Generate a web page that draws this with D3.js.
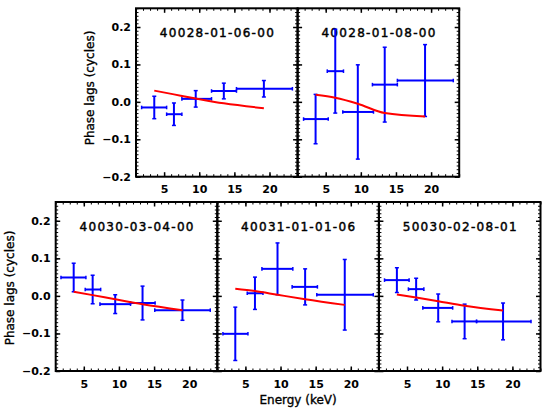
<!DOCTYPE html>
<html><head><meta charset="utf-8">
<script src="https://cdn.jsdelivr.net/npm/d3@7"></script>
<style>body{margin:0;background:#fff}svg{display:block}</style>
</head><body><svg id="c" width="551" height="413"></svg>
<script>
// ---- data ----
const obsIds = ["40028-01-06-00","40028-01-08-00","40030-03-04-00","40031-01-01-06","50030-02-08-01"];
const energyMid = [
  [3.6,6.4,9.5,13.5,19.2],
  [3.56,6.36,9.57,13.4,19.14],
  [3.56,6.26,9.47,13.36,19.04],
  [3.56,6.36,9.57,13.5,19.14],
  [3.56,6.3,9.44,13.2,18.67]];
const energyLo = [
  [1.8,5.36,7.53,11.75,15.3],
  [1.85,5.22,7.43,11.65,15.2],
  [1.75,5.2,7.3,11.65,15.1],
  [1.8,5.26,7.35,11.65,15.16],
  [1.8,5.2,7.25,11.4,14.9]];
const energyHi = [
  [5.36,7.53,11.75,15.3,23.26],
  [5.36,7.53,11.8,15.2,23.16],
  [5.3,7.4,11.65,15.15,23.0],
  [5.36,7.5,11.75,15.25,23.2],
  [5.3,7.4,11.5,14.9,22.65]];
const lagValues = [
  [-0.015,-0.033,0.008,0.029,0.035],
  [-0.046,0.082,-0.027,0.046,0.057],
  [0.049,0.017,-0.022,-0.019,-0.038],
  [-0.101,0.007,0.072,0.024,0.003],
  [0.042,0.018,-0.032,-0.068,-0.068]];
const lagErrors = [
  [0.030,0.030,0.022,0.021,0.022],
  [0.066,0.112,0.126,0.100,0.096],
  [0.038,0.038,0.025,0.045,0.027],
  [0.071,0.043,0.069,0.048,0.094],
  [0.033,0.029,0.037,0.046,0.049]];
const modelLags = [
  [0.030,0.020,0.009,-0.004,-0.017],
  [0.019,0.011,-0.005,-0.030,-0.039],
  [0.011,0.002,-0.009,-0.022,-0.038],
  [0.019,0.013,0.003,-0.009,-0.024],
  [0.004,-0.004,-0.014,-0.026,-0.039]];
const xTicks = [5,10,15,20];
const yTicks = [-0.2,-0.1,0.0,0.1,0.2];
const xMinor = d3.range(1,25);
const yMinor = d3.range(-20,26).map(d=>d/100);

// ---- layout ----
const pw = 161.6;
const panels = [
  {x0:136, y0:8.3, y1:176.7, ylab:true},
  {x0:136+pw, y0:8.3, y1:176.7, ylab:false},
  {x0:55.7, y0:202, y1:371, ylab:true},
  {x0:55.7+pw, y0:202, y1:371, ylab:false},
  {x0:55.7+2*pw, y0:202, y1:371, ylab:false}];

const svg = d3.select("#c");
const tickFont = "DejaVu Sans";

panels.forEach((p,i)=>{
  const x = d3.scaleLinear().domain([1,24]).range([p.x0,p.x0+pw]);
  const y = d3.scaleLinear().domain([-0.2,0.25]).range([p.y1,p.y0]);
  const g = svg.append("g");

  function styleAxis(sel, w){
    sel.select(".domain").remove();
    sel.selectAll(".tick line").attr("stroke","#000").attr("stroke-width",w);
  }
  // minor ticks
  g.append("g").attr("transform",`translate(0,${p.y1})`)
    .call(d3.axisBottom(x).tickValues(xMinor).tickSize(-2.5).tickFormat("")).call(s=>styleAxis(s,1));
  g.append("g").attr("transform",`translate(0,${p.y0})`)
    .call(d3.axisTop(x).tickValues(xMinor).tickSize(-2.5).tickFormat("")).call(s=>styleAxis(s,1));
  g.append("g").attr("transform",`translate(${p.x0},0)`)
    .call(d3.axisLeft(y).tickValues(yMinor).tickSize(-2.5).tickFormat("")).call(s=>styleAxis(s,1));
  g.append("g").attr("transform",`translate(${p.x0+pw},0)`)
    .call(d3.axisRight(y).tickValues(yMinor).tickSize(-2.5).tickFormat("")).call(s=>styleAxis(s,1));
  // major ticks
  const bx = g.append("g").attr("transform",`translate(0,${p.y1})`)
    .call(d3.axisBottom(x).tickValues(xTicks).tickSize(-4.5).tickPadding(9).tickFormat(d3.format("d")));
  styleAxis(bx,1.5);
  bx.selectAll("text").attr("font-family",tickFont).attr("font-weight","bold").attr("font-size",11).attr("fill","#000");
  g.append("g").attr("transform",`translate(0,${p.y0})`)
    .call(d3.axisTop(x).tickValues(xTicks).tickSize(-4.5).tickFormat("")).call(s=>styleAxis(s,1.5));
  const ly = g.append("g").attr("transform",`translate(${p.x0},0)`)
    .call(d3.axisLeft(y).tickValues(yTicks).tickSize(-4.5).tickPadding(5)
      .tickFormat(p.ylab ? d3.format(".1f") : ""));
  styleAxis(ly,1.5);
  ly.selectAll("text").attr("font-family",tickFont).attr("font-weight","bold").attr("font-size",11).attr("fill","#000");
  g.append("g").attr("transform",`translate(${p.x0+pw},0)`)
    .call(d3.axisRight(y).tickValues(yTicks).tickSize(-4.5).tickFormat("")).call(s=>styleAxis(s,1.5));

  // frame
  g.append("rect").attr("x",p.x0).attr("y",p.y0).attr("width",pw).attr("height",p.y1-p.y0)
    .attr("fill","none").attr("stroke","#000").attr("stroke-width",2);

  // title
  g.append("text").attr("x",p.x0+pw/2).attr("y",p.y0+29).attr("text-anchor","middle")
    .attr("font-family",tickFont).attr("font-size",12).attr("textLength",114).attr("lengthAdjust","spacing")
    .attr("fill","#000").attr("stroke","#000").attr("stroke-width",0.45).text(obsIds[i]);

  // error bars
  const pts = energyMid[i].map((e,k)=>({e, lo:energyLo[i][k], hi:energyHi[i][k], v:lagValues[i][k], err:lagErrors[i][k]}));
  const eb = g.append("g").attr("stroke","#0000ff").attr("stroke-width",2).attr("fill","none");
  pts.forEach(d=>{
    const cx = x(d.e), cy = y(d.v), yt = y(d.v+d.err), yb = y(d.v-d.err), xl = x(d.lo), xr = x(d.hi);
    eb.append("line").attr("x1",xl).attr("x2",xr).attr("y1",cy).attr("y2",cy);
    eb.append("line").attr("x1",cx).attr("x2",cx).attr("y1",yt).attr("y2",yb);
    eb.append("line").attr("x1",cx-2).attr("x2",cx+2).attr("y1",yt).attr("y2",yt).attr("stroke-width",1.5);
    eb.append("line").attr("x1",cx-2).attr("x2",cx+2).attr("y1",yb).attr("y2",yb).attr("stroke-width",1.5);
    eb.append("line").attr("x1",xl).attr("x2",xl).attr("y1",cy-1.8).attr("y2",cy+1.8).attr("stroke-width",1.5);
    eb.append("line").attr("x1",xr).attr("x2",xr).attr("y1",cy-1.8).attr("y2",cy+1.8).attr("stroke-width",1.5);
  });

  // model line
  const line = d3.line().x(d=>x(d[0])).y(d=>y(d[1])).curve(d3.curveMonotoneX);
  g.append("path").datum(energyMid[i].map((e,k)=>[e, modelLags[i][k]]))
    .attr("d",line).attr("fill","none").attr("stroke","#ff0000").attr("stroke-width",2);
});

// axis labels
const labStyle = s => s.attr("font-family",tickFont).attr("font-size",12).attr("fill","#000")
  .attr("stroke","#000").attr("stroke-width",0.35);
svg.append("text").attr("transform","translate(94,88) rotate(-90)").attr("text-anchor","middle")
  .call(labStyle).text("Phase lags (cycles)");
svg.append("text").attr("transform","translate(14,288) rotate(-90)").attr("text-anchor","middle")
  .call(labStyle).text("Phase lags (cycles)");
svg.append("text").attr("x",55.7+1.5*pw).attr("y",404).attr("text-anchor","middle")
  .call(labStyle).text("Energy (keV)");
</script></body></html>
